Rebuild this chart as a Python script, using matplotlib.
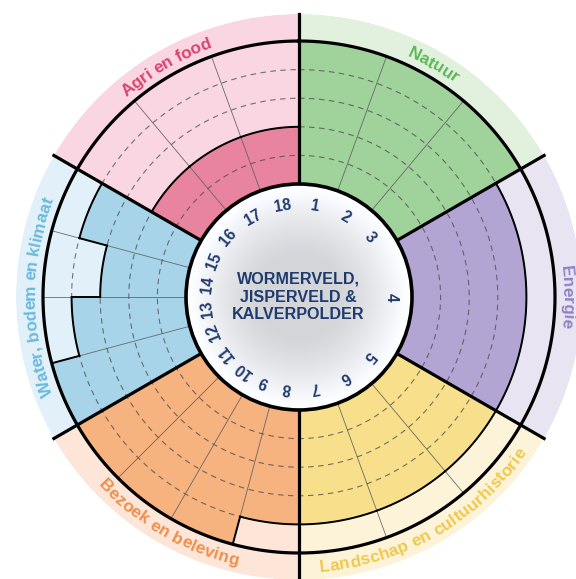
import numpy as np
import matplotlib
matplotlib.use("Agg")
import matplotlib.pyplot as plt
from matplotlib.patches import Circle
from matplotlib.font_manager import FontProperties, findfont, get_font

# ---------------- data ----------------
categories = ["Natuur", "Energie", "Landschap en cultuurhistorie",
              "Bezoek en beleving", "Water, bodem en klimaat", "Agri en food"]
item_counts = [3, 1, 3, 4, 4, 3]
scores = [5, 5, 5,
          4,
          4, 4, 4,
          4, 5, 5, 5,
          5, 4, 3, 4,
          2, 2, 2]
item_labels = [str(i) for i in range(1, 19)]
title = "WORMERVELD,\nJISPERVELD &\nKALVERPOLDER"
max_score = 5
label_upright_bottom = [False, False, True, True, False, False]

dark_colors = ["#a0d29b", "#b3a5d3", "#f8df8b", "#f6b27f", "#a8d4ea", "#e8849f"]
light_colors = ["#e2f1de", "#e8e4f2", "#fdf3d9", "#fde6d7", "#e2f1f9", "#f9d6e1"]
text_colors = ["#5db65a", "#9282c2", "#efc94c", "#ef8f4e", "#6cb9de", "#d9446f"]
navy = "#1f3b6e"

# ---------------- geometry (pixels) ----------------
W, H = 576, 579
CX, CY = 299, 297          # centre (from top-left)
R_OUT, R_MAX, R_IN = 283, 256, 113
step = (R_MAX - R_IN) / max_score

fig = plt.figure(figsize=(W / 100, H / 100), dpi=100)
fig.patch.set_facecolor("white")

ax = fig.add_axes([(CX - R_OUT) / W, (H - CY - R_OUT) / H, 2 * R_OUT / W, 2 * R_OUT / H],
                  projection="polar")
ax.set_theta_zero_location("N")
ax.set_theta_direction(-1)
ax.set_rorigin(-R_IN / step)
r_top = (R_OUT - R_IN) / step
ax.set_ylim(0, r_top)
ax.set_axis_off()

cat_span = 360 / len(categories)
item_start, item_width, item_cat = [], [], []
for c, n in enumerate(item_counts):
    for k in range(n):
        item_start.append(c * cat_span + k * cat_span / n)
        item_width.append(cat_span / n)
        item_cat.append(c)
item_start = np.array(item_start)
item_width = np.array(item_width)

# light backgrounds incl. label ring
for c in range(len(categories)):
    ax.bar(np.radians(c * cat_span), r_top, width=np.radians(cat_span), bottom=0,
           align="edge", color=light_colors[c], edgecolor="none", zorder=1)

# score bars
ax.bar(np.radians(item_start), scores, width=np.radians(item_width), bottom=0,
       align="edge", color=[dark_colors[c] for c in item_cat], edgecolor="none", zorder=2)

# dashed level circles
th_full = np.linspace(0, 2 * np.pi, 721)
for lvl in range(1, max_score):
    ax.plot(th_full, np.full_like(th_full, lvl), color="#4a4a4a", lw=0.8,
            ls=(0, (5, 4)), alpha=0.75, zorder=3)

# thin radial lines between items of a category
for i in range(len(scores)):
    c = item_cat[i]
    if item_start[i] != item_cat[i] * cat_span:
        t = np.radians(item_start[i])
        ax.plot([t, t], [0, max_score], color="#555555", lw=0.6, alpha=0.85, zorder=3)

# outline of score profile
for i in range(len(scores)):
    if scores[i] < max_score:
        th = np.radians(np.linspace(item_start[i], item_start[i] + item_width[i], 60))
        ax.plot(th, np.full_like(th, scores[i]), color="black", lw=1.4, zorder=4,
                solid_capstyle="projecting")
    if i + 1 < len(scores) and item_cat[i + 1] == item_cat[i] and scores[i + 1] != scores[i]:
        t = np.radians(item_start[i + 1])
        ax.plot([t, t], [min(scores[i], scores[i + 1]), max(scores[i], scores[i + 1])],
                color="black", lw=1.4, zorder=4)

# thick outer circle and category separators
ax.plot(th_full, np.full_like(th_full, max_score), color="black", lw=2.3, zorder=5)
for c in range(len(categories)):
    t = np.radians(c * cat_span)
    ax.plot([t, t], [0, r_top], color="black", lw=2.3, zorder=5, clip_on=False)

# ---------------- overlay (pixel coordinates, y up) ----------------
ax2 = fig.add_axes([0, 0, 1, 1])
ax2.set_axis_off()
ax2.patch.set_alpha(0)

n = 400
yy, xx = np.mgrid[-1:1:n * 1j, -1:1:n * 1j]
rr = np.hypot(xx, yy)
v = 0.83 + 0.16 * np.clip((rr - 0.35) / 0.6, 0, 1) ** 1.3
rgb = np.dstack([v, np.clip(v + 0.006, 0, 1), np.clip(v + 0.022, 0, 1)])
im = ax2.imshow(rgb, extent=[-R_IN, R_IN, -R_IN, R_IN], origin="lower", zorder=5,
                interpolation="bilinear")
im.set_clip_path(Circle((0, 0), R_IN, transform=ax2.transData))
ax2.add_patch(Circle((0, 0), R_IN, fill=False, ec="black", lw=2.6, zorder=6))
ax2.set_aspect("auto")
ax2.set_xlim(-CX, W - CX)
ax2.set_ylim(-(H - CY), CY)

# item numbers
for i, lab in enumerate(item_labels):
    a = item_start[i] + item_width[i] / 2
    ar = np.radians(a)
    ax2.text(92 * np.sin(ar), 92 * np.cos(ar), lab, rotation=-a, rotation_mode="anchor",
             ha="center", va="center", fontsize=11.2, fontweight="bold",
             family="Liberation Sans", color=navy, zorder=7)

# title
ax2.text(-1, 0, title, ha="center", va="center", fontsize=11.6, fontweight="bold",
         family="Liberation Sans", color=navy, linespacing=1.22, zorder=7)

# curved category labels
LABEL_FS = 12.4
fp = FontProperties(family="Liberation Sans", weight="bold", size=LABEL_FS)
font = get_font(findfont(fp))
font.set_size(LABEL_FS, 100)


def curved(text, a_c, bottom, color):
    adv = np.array([font.load_char(ord(ch)).linearHoriAdvance / 65536 for ch in text])
    cum = np.concatenate([[0], np.cumsum(adv)])
    centers = (cum[:-1] + cum[1:]) / 2 - cum[-1] / 2
    r_base = 275.5 if bottom else 264.0
    for ch, d in zip(text, centers):
        if ch == " ":
            continue
        off = np.degrees(d / 269.5)
        if bottom:
            a = a_c - off
            rot = 180 - a
        else:
            a = a_c + off
            rot = -a
        ar = np.radians(a)
        ax2.text(r_base * np.sin(ar), r_base * np.cos(ar), ch, rotation=rot,
                 rotation_mode="anchor", ha="center", va="baseline",
                 fontproperties=fp, color=color, zorder=7)


for c, name in enumerate(categories):
    curved(name, c * cat_span + cat_span / 2, label_upright_bottom[c], text_colors[c])

fig.savefig("out.png", dpi=100, facecolor="white")
